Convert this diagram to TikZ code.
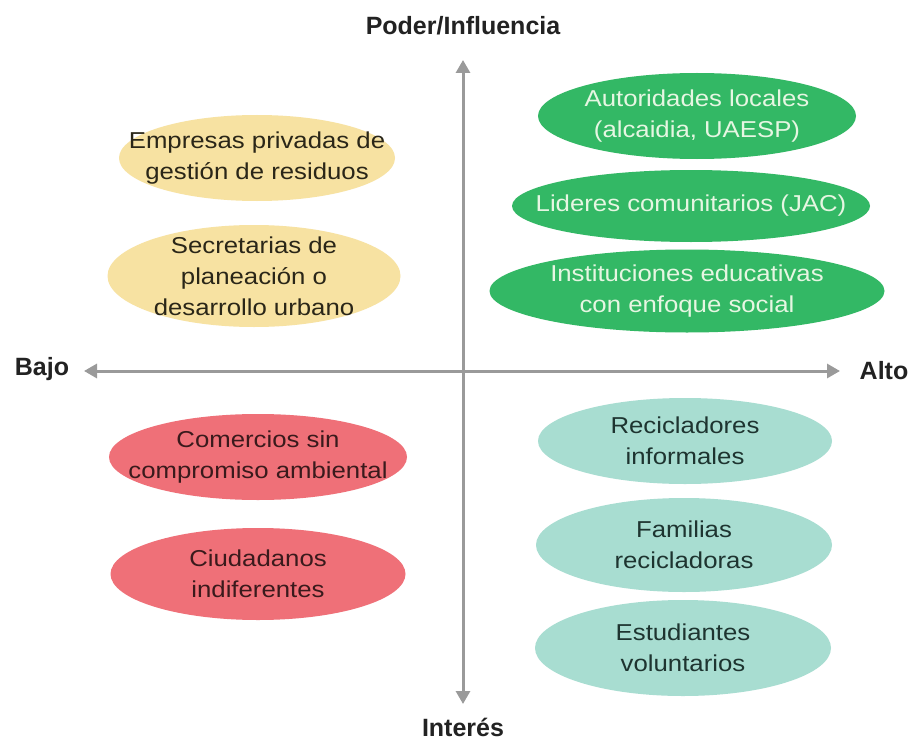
\documentclass[tikz,border=0pt]{standalone}
\usepackage{fontspec}
\setmainfont{Liberation Sans}
\newfontfamily\blobfont{Liberation Sans}[FakeStretch=1.12]
\usetikzlibrary{shapes.geometric,arrows.meta}
\definecolor{ylw}{HTML}{F7E2A2}
\definecolor{grn}{HTML}{33B865}
\definecolor{rd}{HTML}{EF7078}
\definecolor{tl}{HTML}{A8DDD1}
\definecolor{axis}{HTML}{9A9A9A}
\definecolor{txt}{HTML}{222222}
\definecolor{ytxt}{HTML}{2A2618}
\definecolor{rtxt}{HTML}{3A1A1C}
\definecolor{ttxt}{HTML}{1E3430}
\definecolor{gtxt}{HTML}{E6F6E2}
\tikzset{
  blob/.style={ellipse, inner sep=0pt},
  blobtext/.style={inner sep=0pt, align=center, font=\blobfont\fontsize{23}{31}\selectfont, text=txt},
  ax/.style={draw=axis, line width=3pt, -{Triangle[length=13pt,width=14pt]}},
  axlab/.style={font=\fontsize{25}{28}\selectfont\bfseries, text=txt}
}
\begin{document}
\begin{tikzpicture}[x=1pt,y=-1pt]
\useasboundingbox (0,0) rectangle (915,741);
\fill[white] (0,0) rectangle (915,741);
% axes
\coordinate (c) at (463,371);
\coordinate (top) at (463,60);
\coordinate (bot) at (463,704);
\coordinate (lft) at (84,371);
\coordinate (rgt) at (840,371);
\draw[ax] (c) -- (top);
\draw[ax] (c) -- (bot);
\draw[ax] (c) -- (lft);
\draw[ax] (c) -- (rgt);
\node[axlab] (poder) at (463,26) {Poder/Influencia};
\node[axlab] (bajo) at (42,369) {Bajo};
\node[axlab] (alto) at (884,371) {Alto};
\node[axlab] (interes) at (463,727) {Interés};
% yellow
\node[blob, fill=ylw, minimum width=276pt, minimum height=86pt] (emp) at (257,158) {};
\node[blobtext, text=ytxt] (empt) at (emp) {Empresas privadas de\\gestión de residuos};
\node[blob, fill=ylw, minimum width=293pt, minimum height=102pt] (sec) at (254,276) {};
\node[blobtext, text=ytxt] (sect) at (sec) {Secretarias de\\planeación o\\desarrollo urbano};
% green
\node[blob, fill=grn, minimum width=318pt, minimum height=86pt] (aut) at (697,116) {};
\node[blobtext, text=gtxt] (autt) at (aut) {Autoridades locales\\(alcaidia, UAESP)};
\node[blob, fill=grn, minimum width=358pt, minimum height=72pt] (lid) at (691,206) {};
\node[blobtext, text=gtxt] (lidt) at (lid) {Lideres comunitarios (JAC)};
\node[blob, fill=grn, minimum width=395pt, minimum height=83pt] (ins) at (687,291) {};
\node[blobtext, text=gtxt] (inst) at (ins) {Instituciones educativas\\con enfoque social};
% red
\node[blob, fill=rd, minimum width=298pt, minimum height=86pt] (com) at (258,457) {};
\node[blobtext, text=rtxt] (comt) at (com) {Comercios sin\\compromiso ambiental};
\node[blob, fill=rd, minimum width=295pt, minimum height=92pt] (ciu) at (258,574) {};
\node[blobtext, text=rtxt] (ciut) at (ciu) {Ciudadanos\\indiferentes};
% teal
\node[blob, fill=tl, minimum width=294pt, minimum height=86pt] (rec) at (685,441) {};
\node[blobtext, text=ttxt] (rect) at (rec) {Recicladores\\informales};
\node[blob, fill=tl, minimum width=296pt, minimum height=94pt] (fam) at (684,545) {};
\node[blobtext, text=ttxt] (famt) at (fam) {Familias\\recicladoras};
\node[blob, fill=tl, minimum width=296pt, minimum height=96pt] (est) at (683,648) {};
\node[blobtext, text=ttxt] (estt) at (est) {Estudiantes\\voluntarios};
\end{tikzpicture}
\end{document}
